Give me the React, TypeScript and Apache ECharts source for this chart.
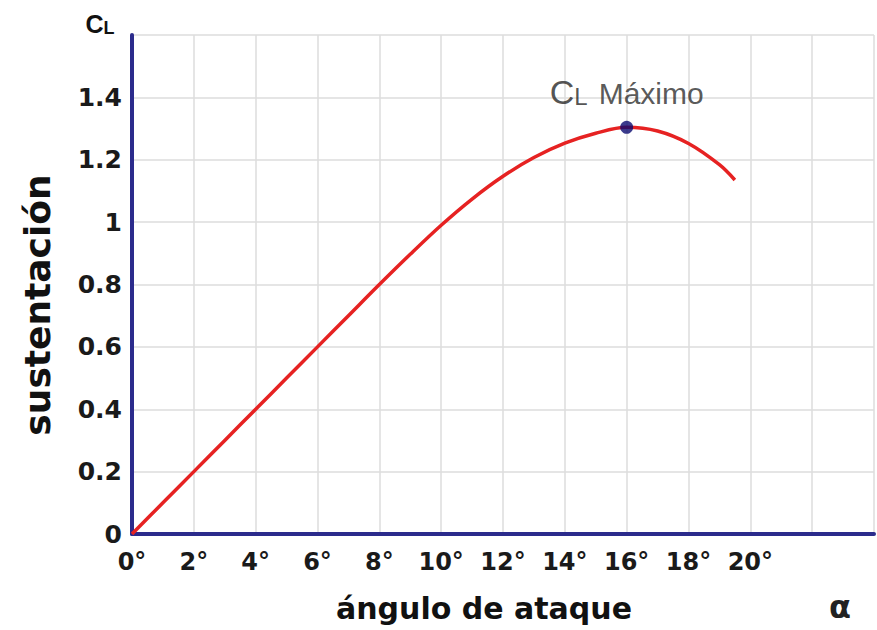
import React, { useEffect, useRef } from "react";
import * as echarts from "echarts";

const angles = [0, 1, 2, 3, 4, 5, 6, 7, 8, 9, 10, 11, 12, 13, 14, 15, 16, 17, 18, 19, 19.5];
const lift = [0, 0.1, 0.2, 0.3, 0.4, 0.5, 0.6, 0.7, 0.8, 0.897, 0.99, 1.074, 1.147, 1.207, 1.253, 1.285, 1.304, 1.292, 1.252, 1.184, 1.135];
const maxAngle = 16;
const maxLift = 1.304;
const xTickLabels = ["0°", "2°", "4°", "6°", "8°", "10°", "12°", "14°", "16°", "18°", "20°"];
const yTickLabels = ["0", "0.2", "0.4", "0.6", "0.8", "1", "1.2", "1.4"];

export default function App() {
  const ref = useRef<HTMLDivElement>(null);
  useEffect(() => {
    document.body.style.margin = "0";
    const chart = echarts.init(ref.current!, null, { renderer: "svg" });
    const axisColor = "#2b2b8c";
    const gridColor = "#dcdcdc";
    chart.setOption({
      animation: false,
      backgroundColor: "#ffffff",
      grid: { left: 132, right: -2, top: 35, bottom: 96 },
      xAxis: {
        type: "value",
        min: 0,
        max: 24,
        interval: 2,
        axisLine: { show: true, onZero: false, lineStyle: { color: axisColor, width: 4 } },
        axisTick: { show: false },
        splitLine: { show: true, lineStyle: { color: gridColor, width: 1.5 } },
        axisLabel: {
          formatter: (v: number, i: number) => xTickLabels[i] ?? "",
          fontFamily: "DejaVu Sans",
          fontWeight: "bold",
          fontSize: 24,
          color: "#1a1a1a",
          margin: 16,
          showMaxLabel: true,
          showMinLabel: true,
        },
      },
      yAxis: {
        type: "value",
        min: 0,
        max: 1.6,
        interval: 0.2,
        axisLine: { show: true, onZero: false, lineStyle: { color: axisColor, width: 4 } },
        axisTick: { show: false },
        splitLine: { show: true, lineStyle: { color: gridColor, width: 1.5 } },
        axisLabel: {
          formatter: (v: number, i: number) => yTickLabels[i] ?? "",
          fontFamily: "DejaVu Sans",
          fontWeight: "bold",
          fontSize: 25,
          color: "#1a1a1a",
          margin: 10,
        },
      },
      series: [
        {
          type: "line",
          data: angles.map((a, i) => [a, lift[i]]),
          showSymbol: false,
          smooth: 0.34,
          lineStyle: { color: "#e62222", width: 3.5 },
          z: 3,
        },
        {
          type: "scatter",
          data: [[maxAngle, maxLift]],
          symbolSize: 13,
          itemStyle: { color: "#0a0a70" },
          z: 4,
          label: {
            show: true,
            position: "top",
            distance: 12,
            formatter: "{c|C}{l|L}{s| }{m|Máximo}",
            rich: {
              c: { fontSize: 34, fontFamily: "Liberation Sans", color: "#262626", verticalAlign: "bottom" },
              l: { fontSize: 24, fontFamily: "Liberation Sans", color: "#262626", verticalAlign: "bottom" },
              s: { fontSize: 40, fontFamily: "Liberation Sans", color: "#262626", verticalAlign: "bottom" },
              m: { fontSize: 30, fontFamily: "Liberation Sans", color: "#2e2e2e", verticalAlign: "bottom" },
            },
          },
        },
      ],
      graphic: [
        {
          type: "text",
          x: 100,
          y: 24,
          style: {
            text: "{c|C}{l|L}",
            align: "center",
            verticalAlign: "middle",
            rich: {
              c: { fontSize: 25, fontWeight: "bold", fontFamily: "Liberation Sans", fill: "#111111", verticalAlign: "bottom" },
              l: { fontSize: 18, fontWeight: "bold", fontFamily: "Liberation Sans", fill: "#111111", verticalAlign: "bottom" },
            },
          },
        },
        {
          type: "text",
          x: 37,
          y: 305,
          rotation: Math.PI / 2,
          style: {
            text: "sustentación",
            align: "center",
            verticalAlign: "middle",
            fontSize: 36,
            fontWeight: "bold",
            fontFamily: "DejaVu Sans",
            fill: "#111111",
          },
        },
        {
          type: "text",
          x: 484,
          y: 608,
          style: {
            text: "ángulo de ataque",
            align: "center",
            verticalAlign: "middle",
            fontSize: 30,
            fontWeight: "bold",
            fontFamily: "DejaVu Sans",
            fill: "#111111",
          },
        },
        {
          type: "text",
          x: 840,
          y: 607,
          style: {
            text: "α",
            align: "center",
            verticalAlign: "middle",
            fontSize: 32,
            fontWeight: "bold",
            fontFamily: "DejaVu Sans",
            fill: "#222222",
          },
        },
      ],
    });
    return () => chart.dispose();
  }, []);
  return <div ref={ref} style={{ width: 877, height: 630 }} />;
}
